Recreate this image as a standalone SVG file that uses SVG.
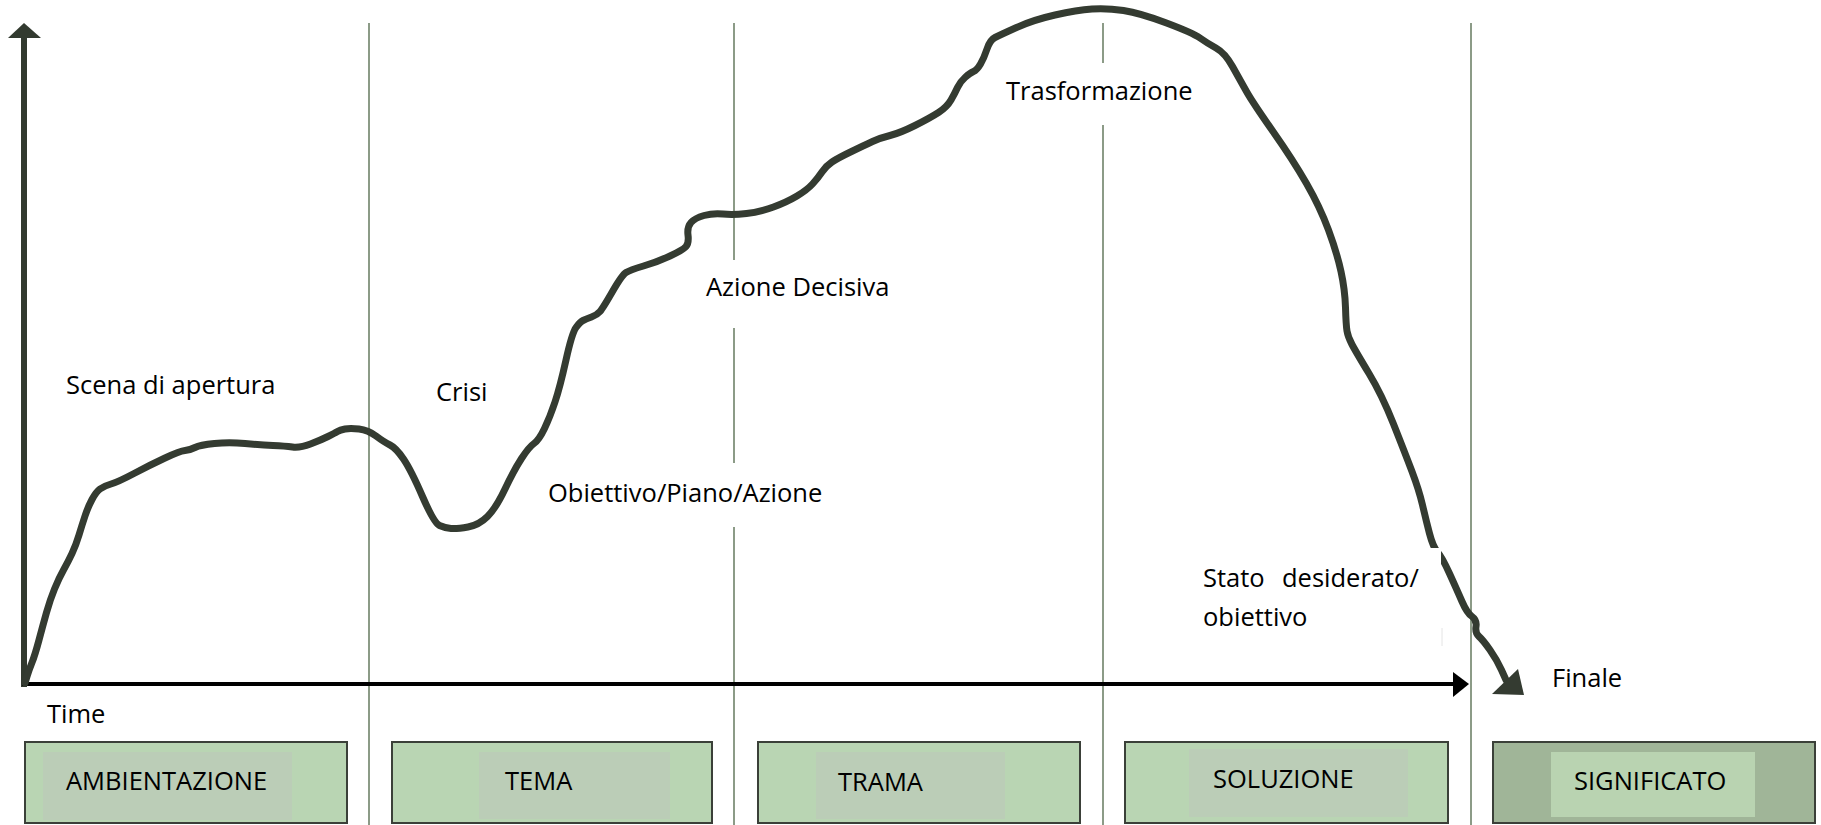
<svg xmlns="http://www.w3.org/2000/svg" width="1821" height="825" viewBox="0 0 1821 825">
<style>
text{font-family:"Open Sans","Noto Sans",sans-serif;font-size:25.5px;fill:#000}
.div{stroke:#8c9b87;stroke-width:2;fill:none}
.box{fill:#b9d5b3;stroke:#3b4039;stroke-width:2}
.inner{fill:#bbcdb7}
.curve{fill:none;stroke:#343b31;stroke-width:7;stroke-linejoin:round;stroke-linecap:round}
</style>
<rect width="1821" height="825" fill="#fff"/>
<g id="connectors">
<g id="dividers">
<line class="div" x1="369" y1="23" x2="369" y2="825"/>
<line class="div" x1="734" y1="23" x2="734" y2="260"/>
<line class="div" x1="734" y1="328" x2="734" y2="463"/>
<line class="div" x1="734" y1="527" x2="734" y2="825"/>
<line class="div" x1="1103" y1="23" x2="1103" y2="63"/>
<line class="div" x1="1103" y1="125" x2="1103" y2="825"/>
<line class="div" x1="1471" y1="23" x2="1471" y2="825"/>
</g>
<g id="axes">
<line x1="24" y1="36" x2="24" y2="687" stroke="#323a2f" stroke-width="6"/>
<polygon points="8,38 24,23 41,38" fill="#323a2f"/>
<line x1="22" y1="684" x2="1455" y2="684" stroke="#000" stroke-width="4"/>
<polygon points="1453,672 1469,684 1453,697" fill="#000"/>
</g>
<path id="curve" class="curve" d="M25,683 L27,676.5 Q29,670 32,662.5 Q35,655 39,640 Q43,625 46.5,612.5 Q50,600 54.5,589 Q59,578 63.5,570 Q68,562 72,553.5 Q76,545 79,535 Q82,525 85,516 Q88,507 92,499.5 Q96,492 100,489 Q104,486 111,484 Q118,482 134,473.5 Q150,465 165,458 Q180,451 185,450.5 Q190,450 195,447.5 Q200,445 214.5,443.5 Q229,442 245,443.5 Q261,445 273,445.5 Q285,446 292.5,447 Q300,448 310.5,444 Q321,440 328,436.5 Q335,433 337.5,431.5 Q340,430 345,429 Q350,428 359,429 Q368,430 376,436 Q384,442 390,445 Q396,448 403.5,459 Q411,470 422.5,496.5 Q434,523 439.5,525.5 Q445,528 451,528.5 Q457,529 468,527 Q479,525 487.5,516.5 Q496,508 505,489 Q514,470 521.5,458.5 Q529,447 534,443.5 Q539,440 544.5,428.5 Q550,417 555,402 Q560,387 566,360 Q572,333 576,327.5 Q580,322 583,320.5 Q586,319 591.5,317 Q597,315 600,311.5 Q603,308 612.5,291.5 Q622,275 626,272.5 Q630,270 643.5,266 Q657,262 670,256 Q683,250 686,246.5 Q689,243 688,235 Q687,227 691,222.5 Q695,218 704,215.5 Q713,213 723,214 Q733,215 746.5,213.5 Q760,212 773.5,207 Q787,202 797,196 Q807,190 812.5,184 Q818,178 822,172 Q826,166 832,162 Q838,158 851.5,151.5 Q865,145 872.5,141.5 Q880,138 890,135.5 Q900,133 915,125.5 Q930,118 938.5,112.5 Q947,107 951,100 Q955,93 957.5,87.5 Q960,82 965,77.5 Q970,73 973.5,71.5 Q977,70 980.5,64 Q984,58 987,49 Q990,40 995,37.5 Q1000,35 1016.5,27.5 Q1033,20 1055,15 Q1077,10 1092,9 Q1107,8 1123.5,10.5 Q1140,13 1166.5,23 Q1193,33 1200,38 Q1207,43 1216,48 Q1225,53 1232.5,66.5 Q1240,80 1246.5,91.5 Q1253,103 1273,131.5 Q1293,160 1306.5,183.5 Q1320,207 1328.5,230 Q1337,253 1341,271.5 Q1345,290 1345.5,307.5 Q1346,325 1347,331 Q1348,337 1352,344.5 Q1356,352 1369,373.5 Q1382,395 1393.5,424 Q1405,453 1412,471.5 Q1419,490 1422.5,505 Q1426,520 1429.5,533.5 Q1433,547 1437.5,552 Q1442,557 1449.5,573.5 Q1457,590 1462,601.5 Q1467,613 1472,616.5 Q1477,620 1476,626.5 Q1475,633 1479,636.5 Q1483,640 1490,650 Q1497,660 1501.5,670 L1506,680"/>
<polygon points="1492,694 1524,695 1518,669" fill="#343b31"/>
<rect x="1190" y="548" width="251" height="98" fill="#fff"/>
<line x1="1442" y1="628" x2="1442" y2="646" stroke="#e4e4e4" stroke-width="1"/>
</g>
<g id="labels">
<text x="66" y="394">Scena di apertura</text>
<text x="436" y="401">Crisi</text>
<text x="548" y="502">Obiettivo/Piano/Azione</text>
<text x="706" y="296">Azione Decisiva</text>
<text x="1006" y="100">Trasformazione</text>
<text x="1203" y="587">Stato</text>
<text x="1282" y="587">desiderato/</text>
<text x="1203" y="626">obiettivo</text>
<text x="1552" y="687">Finale</text>
<text x="47" y="723">Time</text>
</g>
<g id="ambientazione">
<rect class="box" x="25" y="742" width="322" height="81"/>
<rect class="inner" x="43" y="752" width="249" height="68"/>
<text x="66" y="790">AMBIENTAZIONE</text>
</g>
<g id="tema">
<rect class="box" x="392" y="742" width="320" height="81"/>
<rect class="inner" x="479" y="752" width="191" height="67"/>
<text x="505" y="790">TEMA</text>
</g>
<g id="trama">
<rect class="box" x="758" y="742" width="322" height="81"/>
<rect class="inner" x="816" y="752" width="189" height="67"/>
<text x="838" y="791">TRAMA</text>
</g>
<g id="soluzione">
<rect class="box" x="1125" y="742" width="323" height="81"/>
<rect class="inner" x="1189" y="749" width="219" height="68"/>
<text x="1213" y="788">SOLUZIONE</text>
</g>
<g id="significato">
<rect class="box" x="1493" y="742" width="322" height="81" style="fill:#a0b598"/>
<rect x="1551" y="752" width="204" height="65" fill="#b9d3b1"/>
<text x="1574" y="790">SIGNIFICATO</text>
</g>
</svg>
